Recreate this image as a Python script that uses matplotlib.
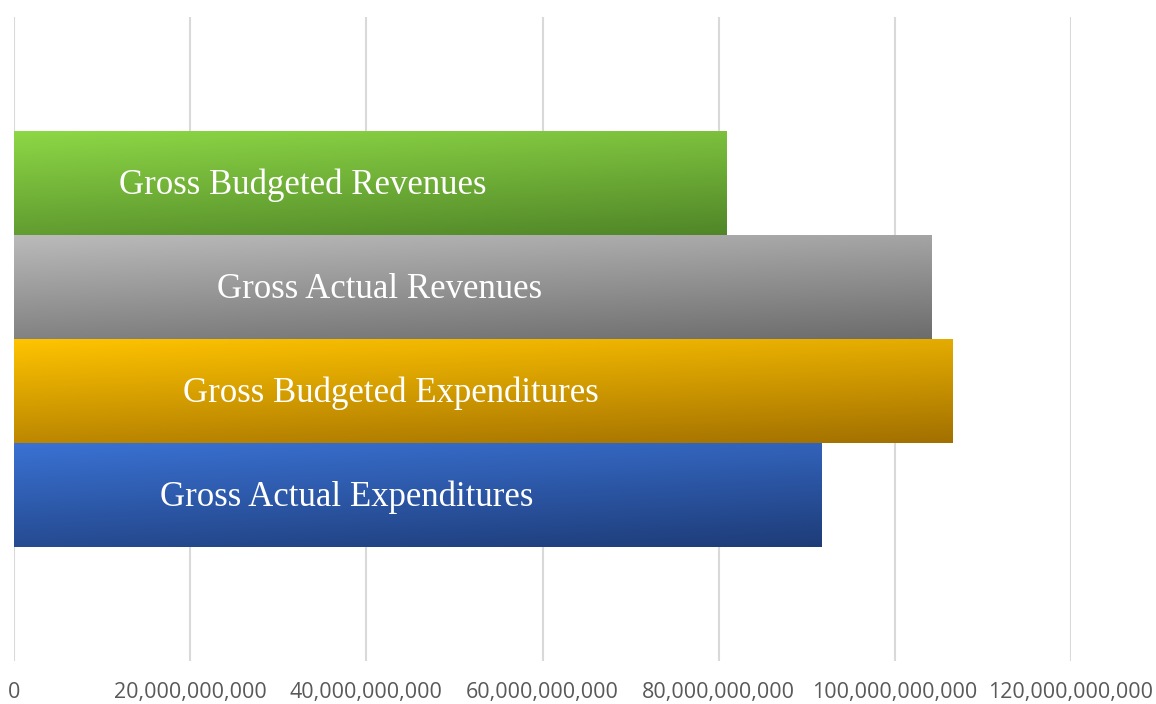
import numpy as np
import matplotlib.pyplot as plt
from matplotlib.colors import LinearSegmentedColormap
from matplotlib.ticker import FuncFormatter

# bottom to top
labels = ['Gross Actual Expenditures', 'Gross Budgeted Expenditures',
          'Gross Actual Revenues', 'Gross Budgeted Revenues']
values = [91.7e9, 106.6e9, 104.2e9, 80.9e9]
label_x = [37.8e9, 42.8e9, 41.5e9, 32.8e9]
xticks = [0, 20e9, 40e9, 60e9, 80e9, 100e9, 120e9]

grad_colors = [('#3A72D4', '#1E3C78'),
               ('#FFC400', '#A27000'),
               ('#BBBBBB', '#6C6C6C'),
               ('#8ED846', '#508628')]

fig = plt.figure(figsize=(11.56, 7.04), dpi=100)
ax = fig.add_axes([14/1156, 1 - 661/704, (1071-14)/1156, (661-17)/704])

bars = ax.barh(range(len(values)), values, height=1.0, color='none')

# gradient fill for each bar
u, v = np.meshgrid(np.linspace(0, 1, 200), np.linspace(0, 1, 100))
t = 0.72 * v + 0.28 * u
for bar, (c0, c1) in zip(bars, grad_colors):
    cmap = LinearSegmentedColormap.from_list('g', [c0, c1])
    x0, y0 = bar.get_x(), bar.get_y()
    w, h = bar.get_width(), bar.get_height()
    im = ax.imshow(t, cmap=cmap, aspect='auto', origin='upper',
                   extent=[x0, x0 + w, y0, y0 + h], zorder=2, vmin=0, vmax=1)
    im.set_clip_path(bar)

for i, (lab, lx) in enumerate(zip(labels, label_x)):
    ax.text(lx, i - 0.02, lab, color='white', fontsize=25, family='Liberation Serif',
            ha='center', va='center', zorder=3)

ax.set_xlim(0, 120e9)
ax.set_ylim(-1.596, 4.596)
ax.set_xticks(xticks)
ax.xaxis.set_major_formatter(FuncFormatter(lambda x, p: f'{x:,.0f}'))
ax.set_yticks([])
ax.grid(axis='x', color='#D9D9D9', linewidth=1.5, zorder=0)
ax.set_axisbelow(True)
for s in ax.spines.values():
    s.set_visible(False)
ax.tick_params(axis='x', length=0, pad=15, labelsize=15.5, labelcolor='#595959')
for tl in ax.get_xticklabels():
    tl.set_family('Open Sans')

fig.savefig('out.png', dpi=100)
